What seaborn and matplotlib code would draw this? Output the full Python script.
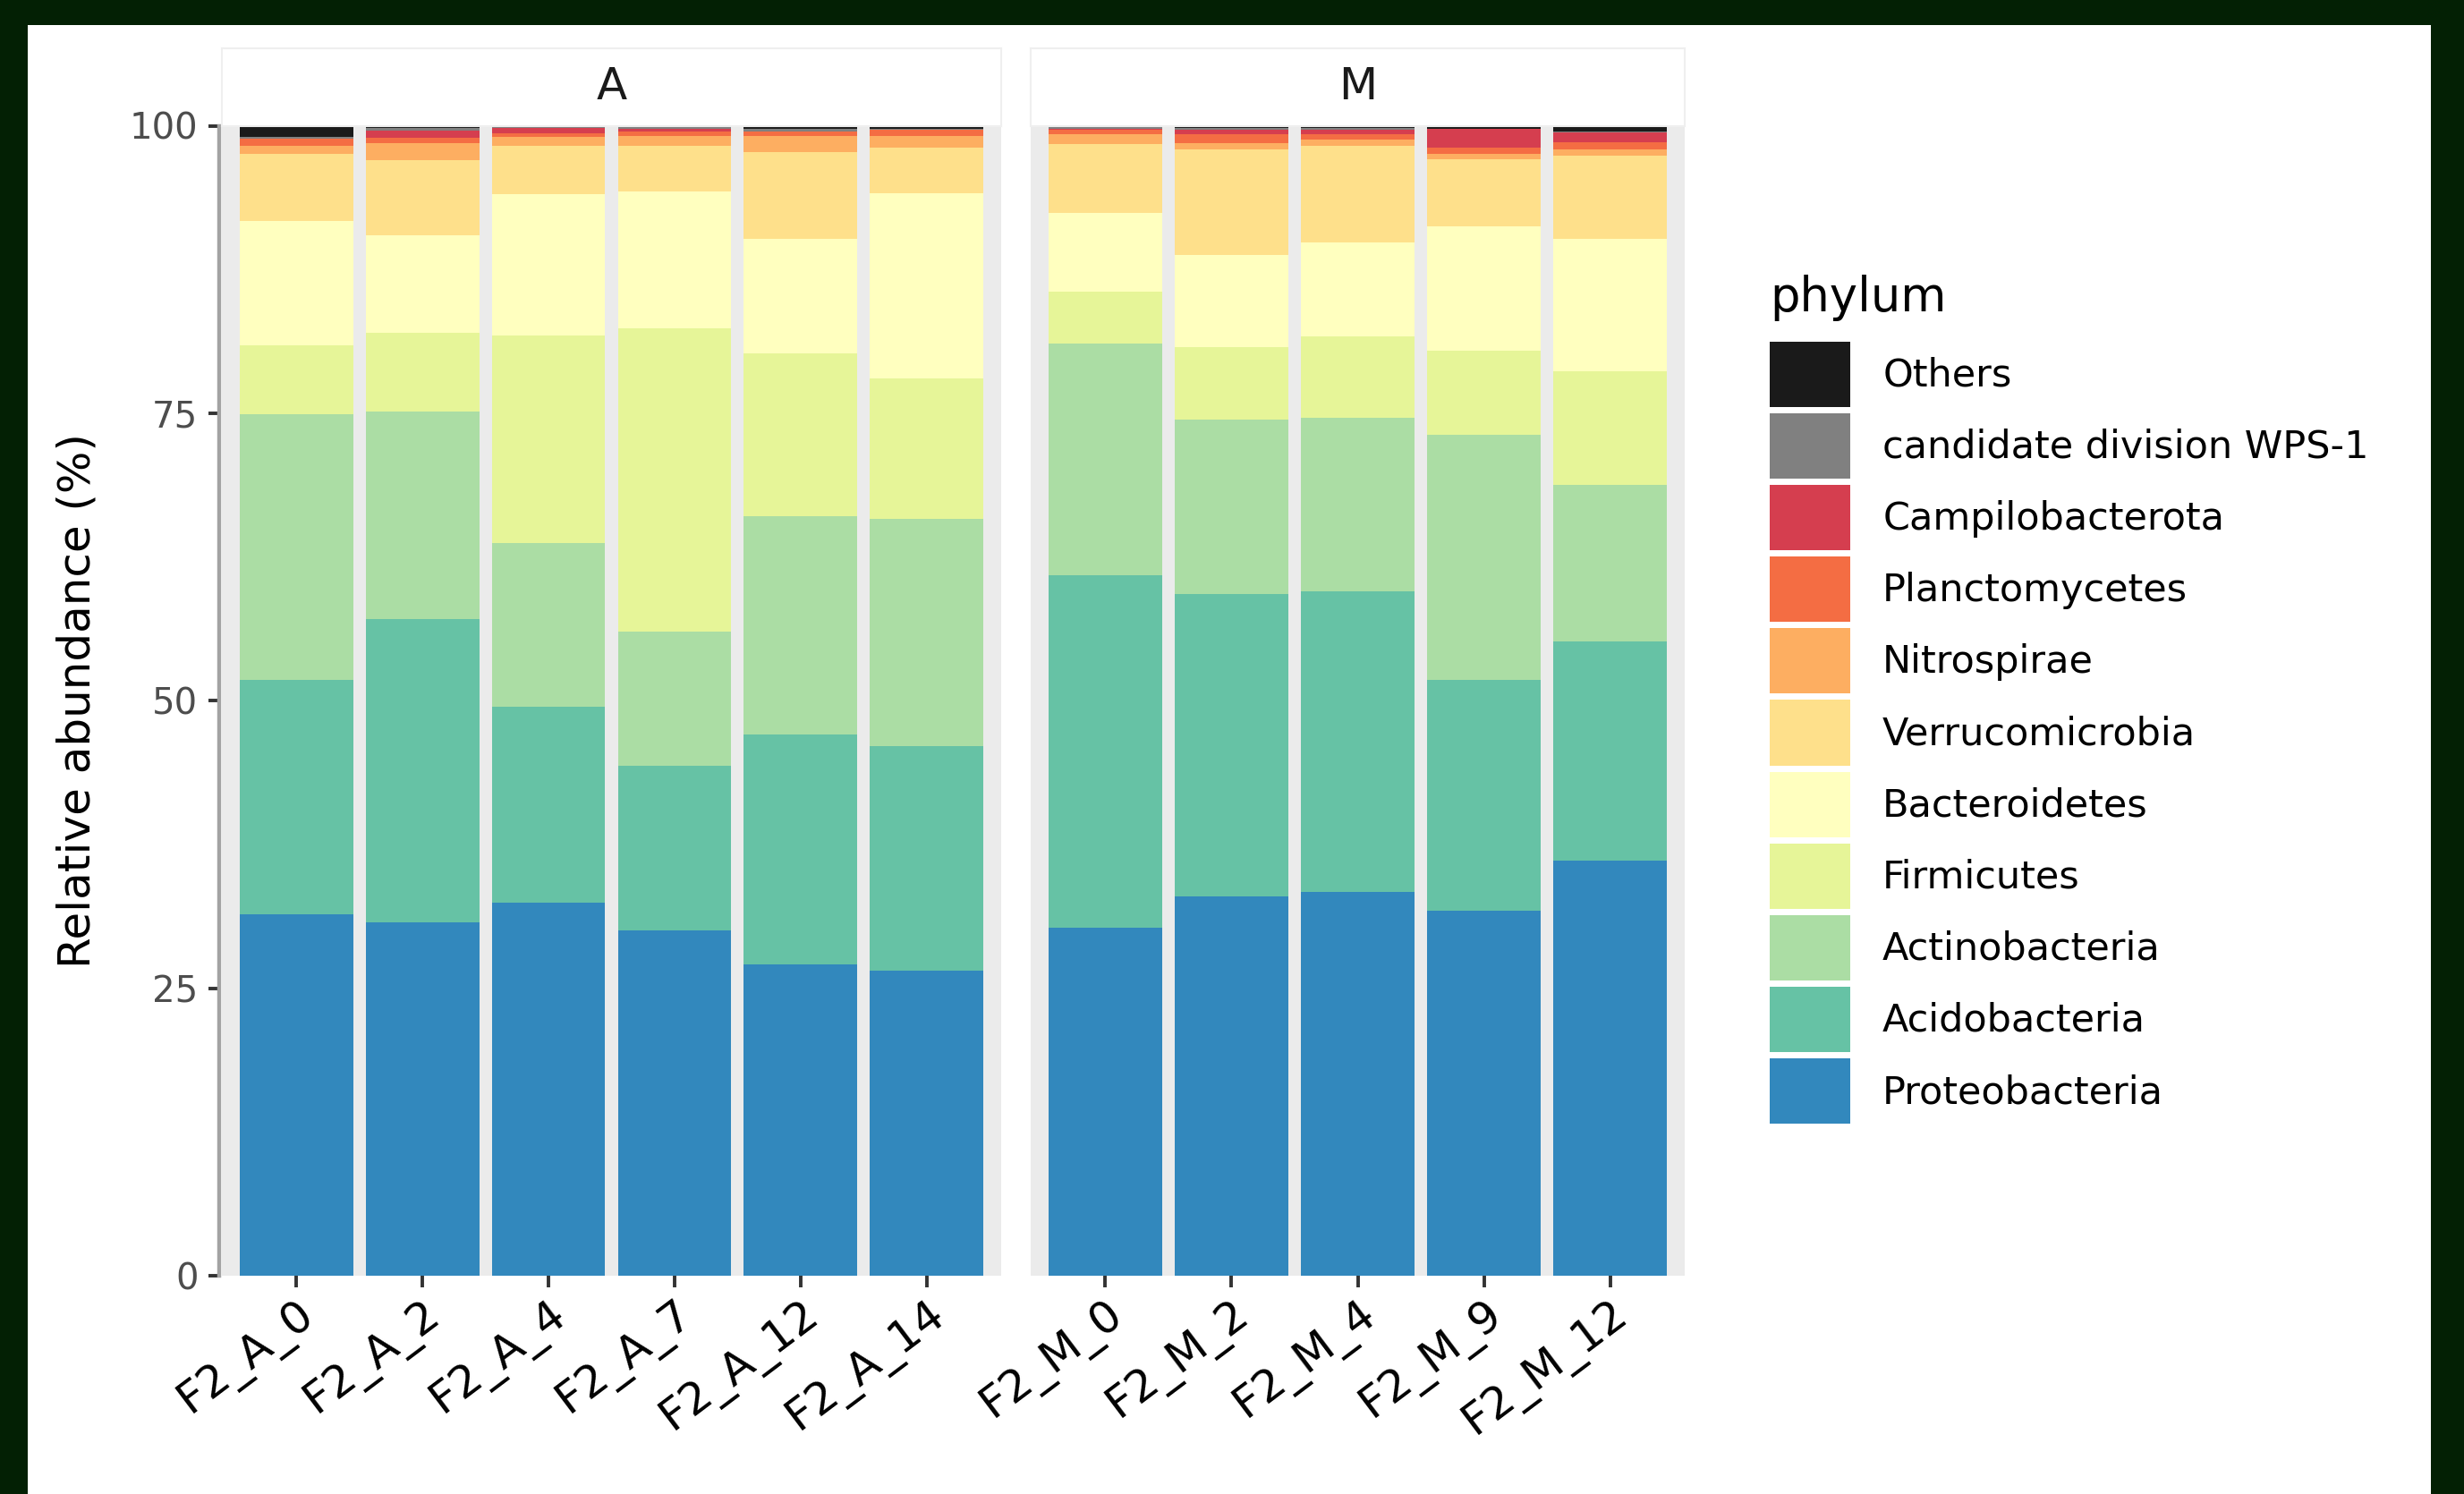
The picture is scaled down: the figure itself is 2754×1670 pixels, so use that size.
import matplotlib
matplotlib.use("Agg")
import matplotlib.pyplot as plt
from matplotlib.patches import Rectangle, Patch
import pandas as pd
import seaborn as sns

# ---- data -------------------------------------------------------------
samples_a = ["F2_A_0", "F2_A_2", "F2_A_4", "F2_A_7", "F2_A_12", "F2_A_14"]
samples_m = ["F2_M_0", "F2_M_2", "F2_M_4", "F2_M_9", "F2_M_12"]
groups = ["A", "M"]

# legend order (top of stack first)
phyla = ["Others", "candidate division WPS-1", "Campilobacterota",
         "Planctomycetes", "Nitrospirae", "Verrucomicrobia", "Bacteroidetes",
         "Firmicutes", "Actinobacteria", "Acidobacteria", "Proteobacteria"]
phylum_colors = ["#1A1A1A", "#808080", "#D53E4F", "#F46D43", "#FDAE61",
                 "#FEE08B", "#FFFFBF", "#E6F598", "#ABDDA4", "#66C2A5",
                 "#3288BD"]

# relative abundance (%) per sample: A_0 .. A_14, then M_0 .. M_12
proteobacteria   = [31.41, 30.70, 32.44, 30.05, 27.09, 26.51, 30.25, 33.02, 33.34, 31.73, 36.12]
acidobacteria    = [20.38, 26.38, 17.03, 14.26, 19.99, 19.54, 30.63, 26.25, 26.19, 20.06, 19.02]
actinobacteria   = [23.15, 18.06, 14.25, 11.67, 18.96, 19.74, 20.19, 15.16, 15.09, 21.35, 13.61]
firmicutes       = [5.94, 6.83, 18.00, 26.38, 14.13, 12.25, 4.52, 6.32, 7.03, 7.29, 9.93]
bacteroidetes    = [10.83, 8.52, 12.31, 11.93, 9.99, 16.12, 6.83, 8.00, 8.19, 10.83, 11.48]
verrucomicrobia  = [5.87, 6.51, 4.20, 3.94, 7.55, 3.94, 6.00, 9.22, 8.39, 5.81, 7.23]
nitrospirae      = [0.67, 1.45, 0.78, 0.86, 1.37, 1.00, 0.86, 0.52, 0.60, 0.47, 0.54]
planctomycetes   = [0.60, 0.52, 0.34, 0.39, 0.39, 0.54, 0.39, 0.78, 0.44, 0.52, 0.62]
campilobacterota = [0.05, 0.57, 0.44, 0.26, 0.05, 0.02, 0.05, 0.39, 0.39, 1.66, 0.86]
wps1             = [0.10, 0.29, 0.13, 0.16, 0.20, 0.08, 0.20, 0.18, 0.16, 0.02, 0.05]
others           = [0.98, 0.13, 0.08, 0.10, 0.26, 0.29, 0.08, 0.16, 0.18, 0.29, 0.55]

y_ticks = [0, 25, 50, 75, 100]
y_tick_labels = ["0", "25", "50", "75", "100"]

# ---- tidy table -------------------------------------------------------
all_samples = samples_a + samples_m
wide = pd.DataFrame({
    "Others": others,
    "candidate division WPS-1": wps1,
    "Campilobacterota": campilobacterota,
    "Planctomycetes": planctomycetes,
    "Nitrospirae": nitrospirae,
    "Verrucomicrobia": verrucomicrobia,
    "Bacteroidetes": bacteroidetes,
    "Firmicutes": firmicutes,
    "Actinobacteria": actinobacteria,
    "Acidobacteria": acidobacteria,
    "Proteobacteria": proteobacteria,
}, index=all_samples)
palette = dict(zip(phyla, phylum_colors))

# ---- figure -----------------------------------------------------------
W, H = 2754, 1670
fig = plt.figure(figsize=(W / 100, H / 100), dpi=100)
fig.patch.set_facecolor("#032004")
fig.add_artist(Rectangle((31 / W, 0), (2717 - 31) / W, (H - 28) / H,
                         transform=fig.transFigure, facecolor="white",
                         edgecolor="none", zorder=-5))


def fx(px):
    return px / W


def fy(py):
    return 1 - py / H


panel_top, panel_bottom = 140.5, 1426
strip_top = 54
panels = {"A": (248, 1119, samples_a), "M": (1152, 1883, samples_m)}

for g in groups:
    x0, x1, samples = panels[g]
    ax = fig.add_axes([fx(x0), fy(panel_bottom), fx(x1 - x0),
                       (panel_bottom - panel_top) / H])
    ax.set_facecolor("#EBEBEB")
    sub = wide.loc[samples, phyla[::-1]]
    cum = sub.cumsum(axis=1)
    # draw the running totals from the top layer down so lower layers overlay
    for ph in phyla:
        sns.barplot(x=samples, y=cum[ph].values, order=samples,
                    color=palette[ph], saturation=1, width=0.9,
                    errorbar=None, linewidth=0, ax=ax)
    ax.set_xlim(-0.59, len(samples) - 1 + 0.59)
    ax.set_ylim(0, 100)
    for s in ax.spines.values():
        s.set_visible(False)
    if g == "A":
        ax.spines["left"].set_visible(True)
        ax.spines["left"].set_color("#A3A3A3")
        ax.spines["left"].set_linewidth(3.2)
        ax.spines["left"].set_position(("outward", 2.5))
    ax.set_xlabel("")
    ax.set_ylabel("")
    ax.set_xticks(range(len(samples)))
    ax.set_xticklabels(samples)
    ax.tick_params(axis="x", length=9.4, width=2.8, color="#333333", pad=4,
                   labelsize=36, labelcolor="black", labelrotation=37)
    for lbl in ax.get_xticklabels():
        lbl.set_ha("right")
        lbl.set_va("top")
        lbl.set_rotation_mode("anchor")
    ax.set_yticks(y_ticks)
    if g == "A":
        ax.set_yticklabels(y_tick_labels)
        ax.tick_params(axis="y", length=8.6, width=2.8, color="#333333",
                       pad=8, labelsize=29, labelcolor="#4D4D4D")
        ax.set_ylabel("Relative abundance (%)", fontsize=36, color="black",
                      va="center")
        ax.yaxis.set_label_coords((87 - 248) / (1119 - 248), 0.5)
    else:
        ax.tick_params(axis="y", left=False, labelleft=False)

    # facet strip
    sax = fig.add_axes([fx(x0), fy(panel_top), fx(x1 - x0),
                        (panel_top - strip_top) / H])
    sax.set_facecolor("white")
    sax.set_xticks([])
    sax.set_yticks([])
    for s in sax.spines.values():
        s.set_color("#EFEFEF")
        s.set_linewidth(1.5)
    sax.text(0.5, 0.5, g, ha="center", va="center", fontsize=36,
             color="#1A1A1A", transform=sax.transAxes)

# ---- legend -----------------------------------------------------------
handles = [Patch(facecolor=palette[p], edgecolor="none") for p in phyla]
leg = fig.legend(handles, phyla, loc="upper left",
                 bbox_to_anchor=(fx(1978), fy(307)),
                 bbox_transform=fig.transFigure,
                 frameon=False, title="phylum", fontsize=31, title_fontsize=38,
                 handlelength=2.09, handleheight=2.235, labelspacing=0.163,
                 handletextpad=0.84, borderpad=0, borderaxespad=0,
                 alignment="left")
# extra room between the legend title and the first key
leg._legend_box.sep = 16.5

fig.savefig("out.png", dpi=100, facecolor=fig.get_facecolor())
